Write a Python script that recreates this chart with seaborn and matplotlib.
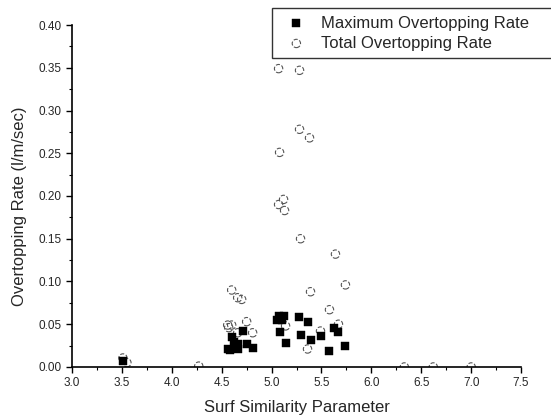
import numpy as np
import pandas as pd
import seaborn as sns
from matplotlib import pyplot as plt
from matplotlib.ticker import MultipleLocator

# Surf similarity parameter vs overtopping rate
max_x = [3.51, 5.05, 5.07, 5.12, 5.10, 5.08, 5.14, 5.27, 5.36, 5.29, 5.39, 5.50,
         5.58, 5.63, 5.67, 5.74, 4.60, 4.56, 4.58, 4.62, 4.71, 4.66, 4.66, 4.75, 4.81]
max_y = [0.007, 0.055, 0.060, 0.060, 0.055, 0.041, 0.028, 0.059, 0.053, 0.037, 0.032, 0.036,
         0.019, 0.046, 0.041, 0.025, 0.035, 0.021, 0.020, 0.029, 0.042, 0.027, 0.021, 0.027, 0.022]

tot_x = [3.51, 3.55, 4.27, 6.33, 6.62, 7.00, 5.07, 5.28, 5.28, 5.38, 5.08, 5.12, 5.07,
         5.13, 5.29, 5.64, 5.74, 5.39, 4.60, 4.66, 4.70, 5.58, 4.75, 4.56, 4.60, 4.57,
         5.67, 5.14, 4.66, 4.81, 5.49, 5.36]
tot_y = [0.0105, 0.005, 0.001, 0.0, 0.0, 0.0, 0.349, 0.347, 0.278, 0.268, 0.251, 0.196, 0.190,
         0.183, 0.150, 0.132, 0.096, 0.088, 0.090, 0.081, 0.079, 0.067, 0.053, 0.049, 0.049, 0.046,
         0.050, 0.048, 0.040, 0.040, 0.042, 0.021]

max_df = pd.DataFrame({'xi': max_x, 'q': max_y})
tot_df = pd.DataFrame({'xi': tot_x, 'q': tot_y})

sns.set_style('ticks')
plt.rcParams['font.family'] = ['Liberation Sans', 'DejaVu Sans']

fig = plt.figure(figsize=(5.51, 4.17), dpi=100)
ax = fig.add_axes([0.1307, 0.12, 0.815, 0.82])

sns.scatterplot(data=tot_df, x='xi', y='q', ax=ax, marker='o', s=36,
                facecolor='none', edgecolor='#555555', linewidth=0.8,
                linestyle='--', label='Total Overtopping Rate', zorder=2)
sns.scatterplot(data=max_df, x='xi', y='q', ax=ax, marker='s', s=30,
                color='black', edgecolor='black', linewidth=0.3,
                label='Maximum Overtopping Rate', zorder=3)

ax.set_xlim(3.0, 7.5)
ax.set_ylim(0.0, 0.40)
ax.xaxis.set_major_locator(MultipleLocator(0.5))
ax.xaxis.set_minor_locator(MultipleLocator(0.25))
ax.yaxis.set_major_locator(MultipleLocator(0.05))
ax.yaxis.set_minor_locator(MultipleLocator(0.025))
ax.xaxis.set_major_formatter(plt.FormatStrFormatter('%.1f'))
ax.yaxis.set_major_formatter(plt.FormatStrFormatter('%.2f'))
ax.tick_params(which='major', length=4, width=1, labelsize=8.5, color='black')
ax.tick_params(which='minor', length=2.5, width=0.8, color='black')
for s in ['left', 'bottom']:
    ax.spines[s].set_color('black')
    ax.spines[s].set_linewidth(1.2)
sns.despine(ax=ax)

ax.set_xlabel('Surf Similarity Parameter', fontsize=12, labelpad=8)
ax.set_ylabel('Overtopping Rate (l/m/sec)', fontsize=12)
ax.yaxis.set_label_coords(-0.1, 0.47)

h, l = ax.get_legend_handles_labels()
ax.get_legend().remove()
leg = fig.legend(h[::-1], l[::-1], loc='upper left',
                 bbox_to_anchor=(0.494, 0.86, 0.53, 0.12), mode='expand',
                 fontsize=12, frameon=True, fancybox=False, edgecolor='black',
                 borderaxespad=0, handletextpad=0.5, labelspacing=0.3,
                 borderpad=0.45, markerscale=1.0)
leg.get_frame().set_linewidth(1.0)

fig.savefig('out.png', dpi=100)
